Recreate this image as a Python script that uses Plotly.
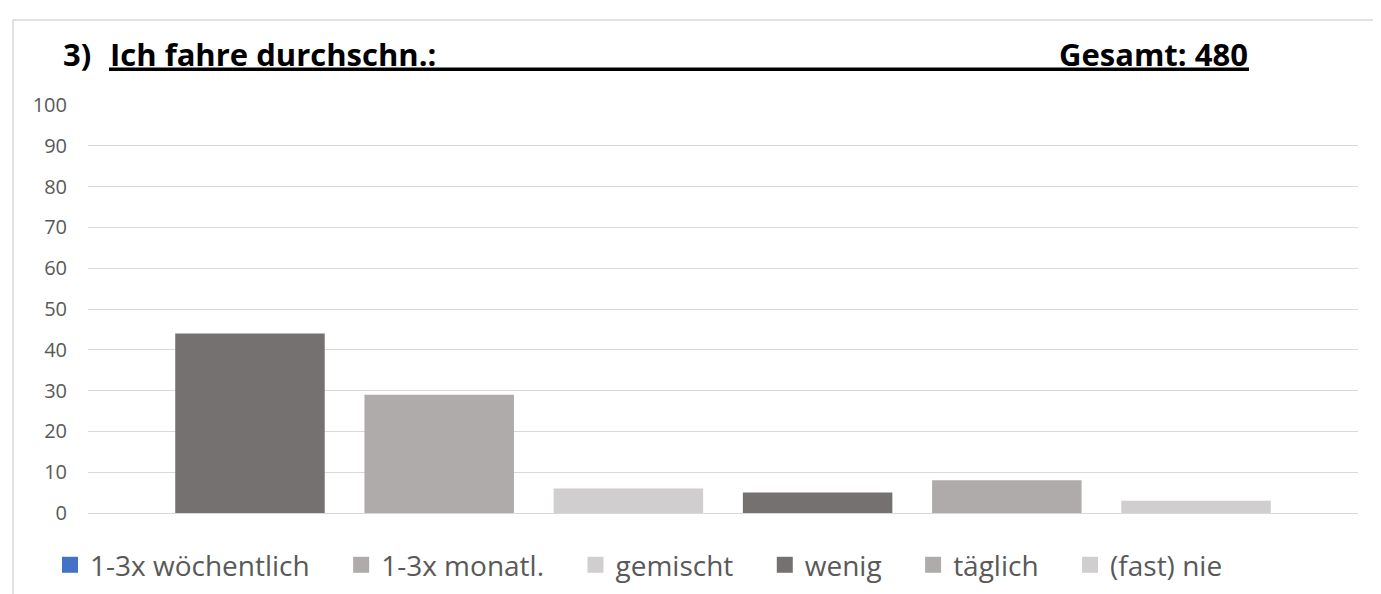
import plotly.graph_objects as go

# Daten
kategorien = ['1-3x wöchentlich', '1-3x monatl.', 'gemischt', 'wenig', 'täglich', '(fast) nie']
werte = [44, 29, 6, 5, 8, 3]
balken_farben = ['#767171', '#AFABAB', '#D0CECE', '#767171', '#AFABAB', '#D0CECE']
legenden_farben = ['#4472C4', '#AFABAB', '#D0CECE', '#767171', '#AFABAB', '#D0CECE']
y_ticks = list(range(0, 101, 10))

titel_links = '3)'
titel_mitte = 'Ich fahre durchschn.:'
titel_rechts = 'Gesamt: 480'

# Layout in Pixeln
W, H = 1381, 594
PLOT_L, PLOT_R = 80, 1350
PLOT_T, PLOT_B = 97, 520


def px_x(x):
    return (x - PLOT_L) / (PLOT_R - PLOT_L)


def px_y(y):
    return (PLOT_B - y) / (PLOT_B - PLOT_T)


FONT = 'Open Sans, Noto Sans, sans-serif'
LEGEND_PAD = '\u00a0\u00a0\u00a0\u2009'  # zusätzlicher Abstand zwischen Legendeneinträgen

fig = go.Figure()

# Balken
fig.add_trace(
    go.Bar(
        x=kategorien,
        y=werte,
        width=0.79,
        marker=dict(color=balken_farben, line=dict(width=0)),
        showlegend=False,
        hoverinfo='x+y'
    )
)

# Legendeneinträge
for i, (name, farbe) in enumerate(zip(kategorien, legenden_farben)):
    fig.add_trace(
        go.Scatter(
            x=[None],
            y=[None],
            mode='markers',
            name=name + (LEGEND_PAD if i < len(kategorien) - 1 else ''),
            marker=dict(symbol='square', size=16, color=farbe)
        )
    )

# Titel
fig.add_annotation(
    text='<b>' + titel_links + '</b>', xref='paper', yref='paper',
    x=px_x(53), y=px_y(44), xanchor='left', yanchor='middle', showarrow=False,
    font=dict(family=FONT, size=31, color='#000000')
)
fig.add_annotation(
    text='<b>' + titel_mitte + '</b>', xref='paper', yref='paper',
    x=px_x(100), y=px_y(44), xanchor='left', yanchor='middle', showarrow=False,
    font=dict(family=FONT, size=31, color='#000000')
)
fig.add_annotation(
    text='<b>' + titel_rechts + '</b>', xref='paper', yref='paper',
    x=px_x(1242), y=px_y(44), xanchor='right', yanchor='middle', showarrow=False,
    font=dict(family=FONT, size=31, color='#000000')
)

# Unterstreichung
fig.add_shape(
    type='line', xref='paper', yref='paper',
    x0=px_x(101), x1=px_x(1241), y0=px_y(60), y1=px_y(60),
    line=dict(color='#000000', width=3.5)
)

# Rahmen
fig.add_shape(
    type='rect', xref='paper', yref='paper',
    x0=px_x(5), x1=px_x(1375), y0=px_y(9), y1=px_y(610),
    line=dict(color='#D9D9D9', width=1.5), layer='below'
)

fig.update_layout(
    width=W,
    height=H,
    margin=dict(l=PLOT_L, r=W - PLOT_R, t=PLOT_T, b=H - PLOT_B, pad=0),
    plot_bgcolor='white',
    paper_bgcolor='white',
    font=dict(family=FONT, color='#595959'),
    bargap=0.21,
    showlegend=True,
    legend=dict(
        orientation='h',
        x=px_x(42), y=px_y(574),
        xanchor='left', yanchor='middle',
        font=dict(family=FONT, size=28, color='#595959'),
        itemsizing='trace',
        bgcolor='rgba(0,0,0,0)',
        traceorder='normal'
    ),
    xaxis=dict(
        type='category',
        range=[-0.856, 5.856],
        showticklabels=False,
        showgrid=False,
        zeroline=False,
        showline=False,
        ticks=''
    ),
    yaxis=dict(
        range=[0, 100],
        tickvals=y_ticks,
        showgrid=True,
        gridcolor='#D9D9D9',
        gridwidth=1.3,
        zeroline=True,
        zerolinecolor='#D9D9D9',
        zerolinewidth=1.3,
        showline=False,
        ticks='',
        ticklabelstandoff=20,
        tickfont=dict(family=FONT, size=20, color='#595959')
    )
)

fig.write_html("out.html")
